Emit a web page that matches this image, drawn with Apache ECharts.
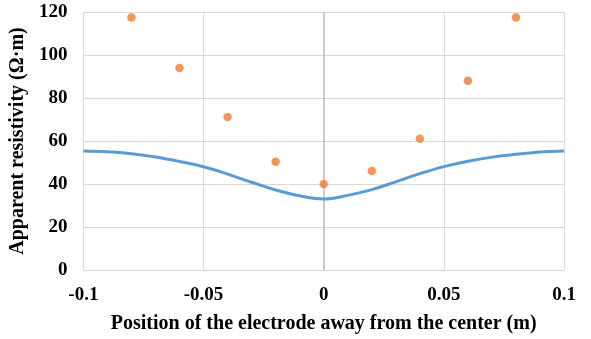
<!DOCTYPE html>
<html>
<head>
<meta charset="utf-8">
<script src="https://cdn.jsdelivr.net/npm/echarts@6/dist/echarts.min.js"></script>
<style>
  html, body { margin: 0; padding: 0; background: #fff; }
  #chart { width: 591px; height: 339px; }
</style>
</head>
<body>
<div id="chart"></div>
<script>
// measured points (orange dots)
const measuredX = [-0.08, -0.06, -0.04, -0.02, 0, 0.02, 0.04, 0.06, 0.08]
const measuredY = [117.5, 94, 71.2, 50.4, 40, 46.1, 61, 88, 117.5]

// simulated curve (blue line)
const curveX = [-0.1, -0.09, -0.08, -0.07, -0.06, -0.05, -0.04, -0.03, -0.02, -0.01, 0,
  0.01, 0.02, 0.03, 0.04, 0.05, 0.06, 0.07, 0.08, 0.09, 0.1]
const curveY = [55.4, 55, 54.1, 52.6, 50.5, 48, 44.6, 40.8, 37.2, 34.5, 33,
  34.7, 37.4, 41, 44.8, 48.1, 50.6, 52.5, 53.8, 54.9, 55.4]

const tickFont = { fontFamily: 'Liberation Serif', fontWeight: 'bold', fontSize: 19, color: '#000' }
const titleFont = { fontFamily: 'Liberation Serif', fontWeight: 'bold', fontSize: 20, color: '#000' }

const chart = echarts.init(document.getElementById('chart'))

chart.setOption({
  animation: false,
  grid: { left: 83, right: 27, top: 12, bottom: 67 },
  xAxis: {
    type: 'value',
    min: -0.1,
    max: 0.1,
    interval: 0.05,
    name: 'Position of the electrode away from the center (m)',
    nameLocation: 'middle',
    nameGap: 44,
    nameTextStyle: titleFont,
    axisLine: { show: false },
    axisTick: { show: false },
    axisLabel: Object.assign({ margin: 16 }, tickFont),
    splitLine: { lineStyle: { color: '#d9d9d9', width: 1 } }
  },
  yAxis: {
    type: 'value',
    min: 0,
    max: 120,
    interval: 20,
    name: 'Apparent resistivity (Ω·m)',
    nameLocation: 'middle',
    nameGap: 50,
    nameTextStyle: titleFont,
    axisLine: { show: false },
    axisTick: { show: false },
    axisLabel: Object.assign({ margin: 16 }, tickFont),
    splitLine: { lineStyle: { color: '#d9d9d9', width: 1 } }
  },
  series: [
    {
      type: 'line',
      data: curveX.map((x, i) => [x, curveY[i]]),
      smooth: 0.4,
      showSymbol: false,
      lineStyle: { color: '#5b9bd5', width: 3 },
      z: 3,
      markLine: {
        silent: true,
        symbol: 'none',
        label: { show: false },
        lineStyle: { color: '#bfbfbf', type: 'solid', width: 1.5 },
        data: [{ xAxis: 0 }],
        z: 1
      }
    },
    {
      type: 'scatter',
      data: measuredX.map((x, i) => [x, measuredY[i]]),
      symbolSize: 8.5,
      itemStyle: { color: '#ed7d31' },
      z: 4
    }
  ]
})
</script>
</body>
</html>
